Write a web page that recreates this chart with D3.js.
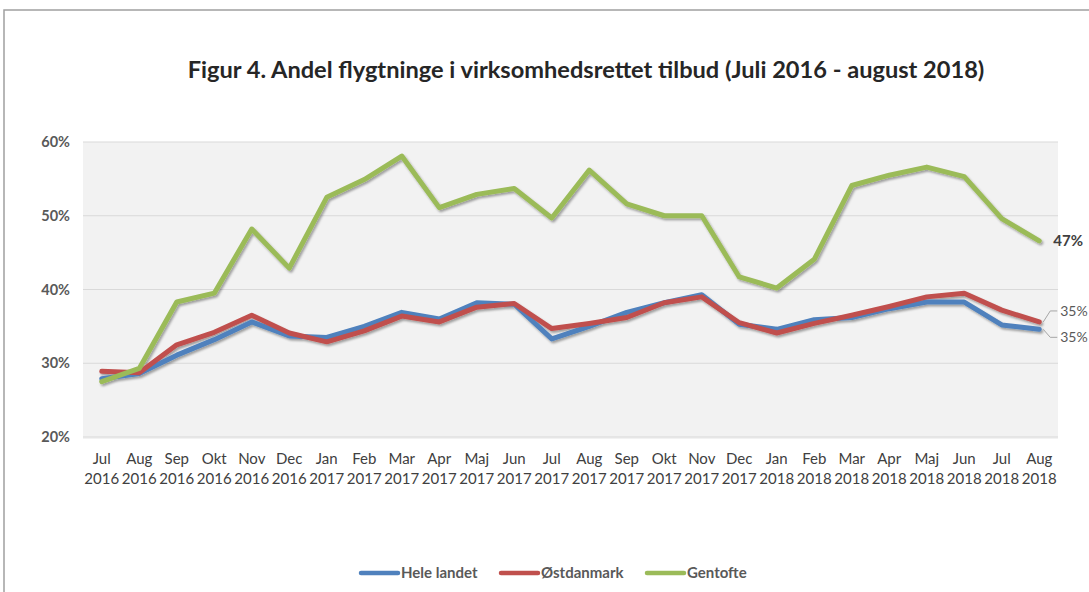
<!DOCTYPE html>
<html><head><meta charset="utf-8">
<script src="https://cdn.jsdelivr.net/npm/d3@7"></script>
<style>
html,body{margin:0;padding:0;background:#fff;}
svg{display:block;}
text{font-family:Lato,"Open Sans",sans-serif;}
</style></head>
<body>
<svg id="c" width="1089" height="592"></svg>
<script>
const months = ["Jul","Aug","Sep","Okt","Nov","Dec","Jan","Feb","Mar","Apr","Maj","Jun","Jul","Aug","Sep","Okt","Nov","Dec","Jan","Feb","Mar","Apr","Maj","Jun","Jul","Aug"];
const years = ["2016","2016","2016","2016","2016","2016","2017","2017","2017","2017","2017","2017","2017","2017","2017","2017","2017","2017","2018","2018","2018","2018","2018","2018","2018","2018"];
const heleLandet = [27.9,28.6,31.1,33.2,35.6,33.7,33.5,35.0,36.9,36.0,38.2,38.0,33.3,35.0,36.9,38.2,39.3,35.3,34.6,35.9,36.2,37.4,38.3,38.3,35.2,34.6];
const ostdanmark = [28.9,28.7,32.5,34.2,36.5,34.1,32.9,34.4,36.4,35.6,37.6,38.1,34.7,35.4,36.2,38.2,39.0,35.5,34.1,35.4,36.5,37.7,39.0,39.5,37.2,35.6];
const gentofte = [27.5,29.3,38.3,39.5,48.2,42.9,52.5,54.9,58.1,51.1,52.9,53.7,49.7,56.2,51.6,50.0,50.0,41.7,40.2,44.1,54.1,55.5,56.6,55.3,49.6,46.6];
const seriesNames = ["Hele landet","Østdanmark","Gentofte"];
const seriesColors = ["#4f81bd","#c0504d","#9bbb59"];
const yTicks = [20,30,40,50,60];
const endLabels = ["35%","35%","47%"];
const title = "Figur 4. Andel flygtninge i virksomhedsrettet tilbud (Juli 2016 - august 2018)";

const categories = months.map((m,i)=>m+" "+years[i]);
const seriesValues = [heleLandet, ostdanmark, gentofte];

const svg = d3.select("#c");
const L=83, R=1058, T=142, B=437;

// outer frame
svg.append("rect").attr("x",4).attr("y",10).attr("width",1200).attr("height",700)
  .attr("fill","none").attr("stroke","#a0a0a0").attr("stroke-width",1.5);

const defs = svg.append("defs");
const f = defs.append("filter").attr("id","sh").attr("x","-5%").attr("y","-20%").attr("width","110%").attr("height","140%");
f.append("feDropShadow").attr("dx",1.5).attr("dy",2).attr("stdDeviation",1.2)
  .attr("flood-color","#000").attr("flood-opacity",0.35);

// title
const tt = svg.append("text").attr("x",586).attr("y",78).attr("text-anchor","middle")
  .attr("font-weight","bold").attr("font-size",22).attr("fill","#262626").text(title);
const tw = tt.node().getComputedTextLength();
tt.attr("font-size", 22*797/tw);

const x = d3.scaleBand().domain(categories).range([L,R]);
const y = d3.scaleLinear().domain([20,60]).range([B,T]);
const cx = c => x(c)+x.bandwidth()/2;

// plot area
svg.append("rect").attr("x",L).attr("y",T).attr("width",R-L).attr("height",B-T+2).attr("fill","#f2f2f2");

// grid
svg.append("g").selectAll("line").data(yTicks).join("line")
  .attr("x1",L).attr("x2",R).attr("y1",d=>y(d)).attr("y2",d=>y(d))
  .attr("stroke","#d9d9d9").attr("stroke-width",1);

// y axis
const ya = svg.append("g").attr("transform",`translate(${L},0)`)
  .call(d3.axisLeft(y).tickValues(yTicks).tickFormat(d=>d+"%").tickSize(0).tickPadding(13));
ya.select(".domain").remove();
ya.selectAll("text").attr("font-family","Lato,sans-serif").attr("font-weight","bold")
  .attr("font-size",14.5).attr("fill","#595959");

// x axis
const xa = svg.append("g").attr("transform",`translate(0,${B})`)
  .call(d3.axisBottom(x).tickSize(0).tickFormat(""));
xa.select(".domain").remove();
xa.selectAll(".tick text").each(function(d,i){
  const t = d3.select(this).attr("y",0).attr("dy",null)
    .attr("font-family","Lato,sans-serif").attr("font-size",15).attr("fill","#404040");
  t.append("tspan").attr("x",0).attr("y",27).text(months[i]);
  t.append("tspan").attr("x",0).attr("y",47).text(years[i]);
});

// lines
const line = d3.line().x((d,i)=>cx(categories[i])).y(d=>y(d));
svg.append("g").attr("filter","url(#sh)").selectAll("path").data(seriesValues).join("path")
  .attr("d",d=>line(d)).attr("fill","none")
  .attr("stroke",(d,i)=>seriesColors[i]).attr("stroke-width",5)
  .attr("stroke-linejoin","round").attr("stroke-linecap","round");

// end labels
const last = categories.length-1;
const lx = cx(categories[last]);
const gy = y(gentofte[last]);
svg.append("text").attr("x",lx+14).attr("y",gy+5).attr("font-weight","bold")
  .attr("font-size",15).attr("fill","#404040").text(endLabels[2]);
const ry = y(ostdanmark[last]), by = y(heleLandet[last]);
const rLab = ry-11, bLab = by+8;
[[ry,rLab,endLabels[1]],[by,bLab,endLabels[0]]].forEach(([yy,ly,txt])=>{
  svg.append("polyline").attr("points",`${lx+4},${yy} ${lx+11},${ly} ${lx+18},${ly}`)
    .attr("fill","none").attr("stroke","#a6a6a6").attr("stroke-width",1);
  svg.append("text").attr("x",lx+21).attr("y",ly+5).attr("font-size",14).attr("fill","#595959").text(txt);
});

// legend
const legendStarts = [361,501,647];
const lg = svg.append("g");
seriesNames.forEach((n,i)=>{
  const lxp = legendStarts[i];
  lg.append("line").attr("x1",lxp).attr("x2",lxp+37).attr("y1",573).attr("y2",573)
    .attr("stroke",seriesColors[i]).attr("stroke-width",4.5).attr("stroke-linecap","round");
  lg.append("text").attr("x",lxp+40).attr("y",578).attr("font-weight","bold")
    .attr("font-size",15).attr("fill","#595959").text(n);
});
</script>
</body></html>
